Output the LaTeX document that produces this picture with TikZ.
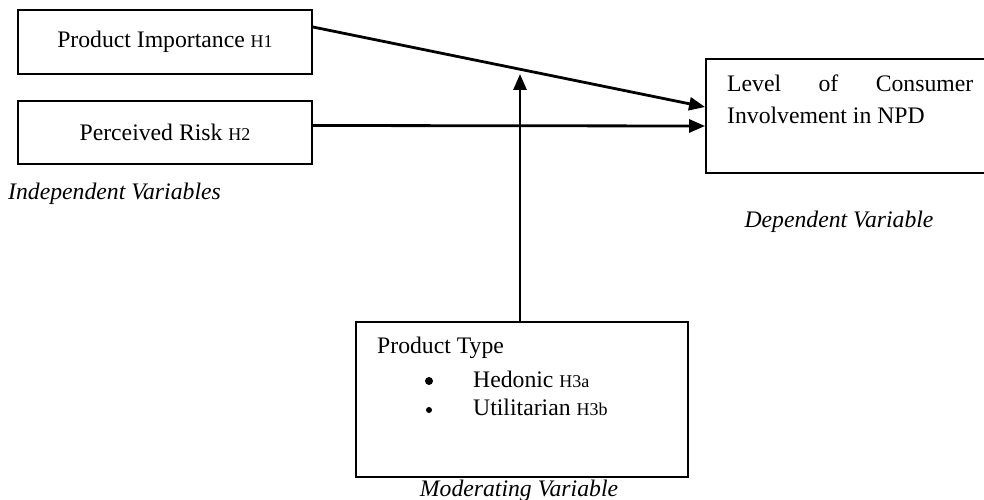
\documentclass[tikz,border=0pt]{standalone}
\usepackage{fontspec}
\setmainfont{Liberation Serif}
\usetikzlibrary{arrows.meta}
\newcommand\hsm[1]{{\fontsize{18}{20}\selectfont #1}}
\begin{document}
\begin{tikzpicture}[x=1pt,y=-1pt,
  every node/.style={font=\fontsize{23.7}{30}\selectfont},
  box/.style={draw, line width=1.8pt, rectangle, inner sep=0pt},
  lab/.style={inner sep=0pt, anchor=base west},
  ital/.style={inner sep=0pt, anchor=base, font=\fontsize{23.7}{30}\selectfont\itshape},
  conn/.style={line width=2.8pt, -{Triangle[length=16pt,width=13pt]}},
  dot/.style={circle, fill, inner sep=0pt}]
\useasboundingbox (0,0) rectangle (984,500);
% boxes
\node[box, minimum width=294pt, minimum height=64pt] (pi) at (165,42) {Product Importance \hsm{H1}};
\node[box, minimum width=294pt, minimum height=63pt] (pr) at (165,132.5) {Perceived Risk \hsm{H2}};
\node[box, minimum width=290pt, minimum height=114pt] (dv) at (851,116) {};
\node[box, minimum width=332pt, minimum height=155pt] (pt) at (522,399.5) {};
% texts in boxes
\node[lab] (dv1) at (727,92) {\makebox[246pt][s]{Level\hfill of\hfill Consumer}};
\node[lab] (dv2) at (727,123) {Involvement in NPD};
\node[lab] (pt0) at (377,353) {Product Type};
\node[dot, minimum size=8pt] (b1) at (429,381) {};
\node[dot, minimum size=6pt] (b2) at (429,410) {};
\node[lab] (pt1) at (473,387) {Hedonic \hsm{H3a}};
\node[lab] (pt2) at (473,415) {Utilitarian \hsm{H3b}};
% italic captions
\node[ital, anchor=base west] (iv) at (8,199) {Independent Variables};
\node[ital] (dvl) at (839,227) {Dependent Variable};
\node[ital] (mvl) at (519,496) {Moderating Variable};
% connectors
\coordinate (mtip) at (520,74);
\draw[conn] ([yshift=15pt]pi.east) -- ([yshift=9pt]dv.west);
\draw[conn] ([yshift=7pt]pr.east) -- ([yshift=-10pt]dv.west);
\draw[conn] (mtip |- pt.north) -- (mtip);
\end{tikzpicture}
\end{document}
